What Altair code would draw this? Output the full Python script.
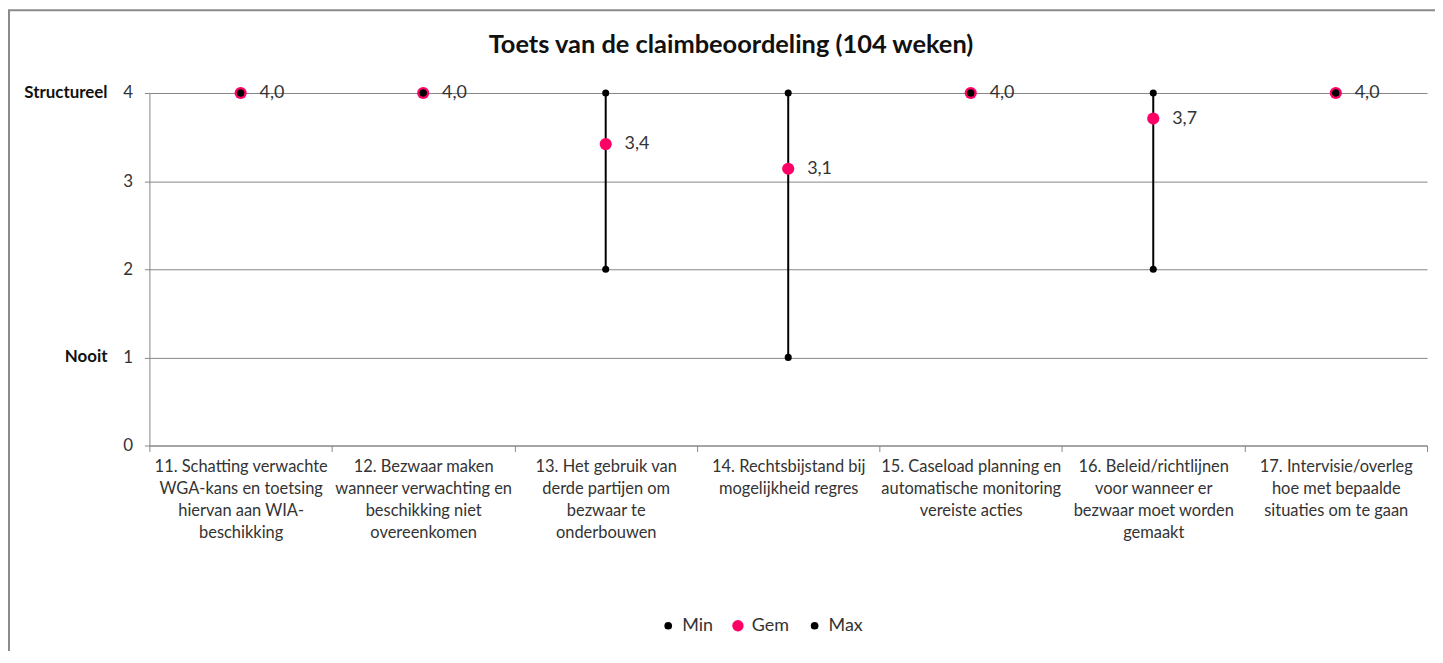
import altair as alt
import pandas as pd

categories = [
    "11. Schatting verwachte\nWGA-kans en toetsing\nhiervan aan WIA-\nbeschikking",
    "12. Bezwaar maken\nwanneer verwachting en\nbeschikking niet\novereenkomen",
    "13. Het gebruik van\nderde partijen om\nbezwaar te\nonderbouwen",
    "14. Rechtsbijstand bij\nmogelijkheid regres",
    "15. Caseload planning en\nautomatische monitoring\nvereiste acties",
    "16. Beleid/richtlijnen\nvoor wanneer er\nbezwaar moet worden\ngemaakt",
    "17. Intervisie/overleg\nhoe met bepaalde\nsituaties om te gaan",
]
min_vals = [4, 4, 2, 1, 4, 2, 4]
gem_vals = [4.0, 4.0, 3.42, 3.14, 4.0, 3.71, 4.0]
max_vals = [4, 4, 4, 4, 4, 4, 4]
y_ticks = [0, 1, 2, 3, 4]
y_named = ["Structureel", "Nooit"]
y_named_vals = [4, 1]
series = ["Min", "Gem", "Max"]
series_colors = ["#000000", "#FF0066", "#000000"]
title_text = "Toets van de claimbeoordeling (104 weken)"

FONT = "Lato, Liberation Sans, sans-serif"
GRID = "#868686"
W, H = 1283, 354
PAD_L, PAD_T, PAD_R, PAD_B = 142, 84, 8, 205

range_df = pd.DataFrame({"cat": categories, "lo": min_vals, "hi": max_vals})
gem_df = pd.DataFrame({"cat": categories, "series": "Gem", "value": gem_vals})
mm_rows = []
for c, mn, mx in zip(categories, min_vals, max_vals):
    mm_rows.append({"cat": c, "series": "Min", "value": mn})
    mm_rows.append({"cat": c, "series": "Max", "value": mx})
mm_df = pd.DataFrame(mm_rows)
lab_df = pd.DataFrame({
    "cat": categories,
    "value": gem_vals,
    "label": [f"{v:.1f}".replace(".", ",") for v in gem_vals],
})
named_df = pd.DataFrame({"name": y_named, "value": y_named_vals})
title_df = pd.DataFrame({"t": [title_text]})

x_enc = alt.X(
    "cat:N", sort=categories,
    scale=alt.Scale(type="band", paddingInner=0, paddingOuter=0),
    axis=alt.Axis(
        title=None, labelAngle=0, tickBand="extent", tickSize=6,
        labelExpr="split(datum.label, '\\n')", labelLineHeight=22,
        labelFontSize=16.5, labelColor="#333333", labelFont=FONT,
        labelPadding=7, domainColor=GRID, tickColor=GRID, grid=False,
        labelLimit=300,
    ),
)
y_scale = alt.Scale(domain=[0, 4], nice=False, zero=True)
y_axis = alt.Axis(
    title=None, values=y_ticks, format="d", tickSize=5, labelPadding=12,
    labelFontSize=17, labelColor="#333333", labelFont=FONT,
    domainColor=GRID, tickColor=GRID, gridColor=GRID, grid=True,
)

color_enc = alt.Color(
    "series:N",
    scale=alt.Scale(domain=series, range=series_colors),
    legend=alt.Legend(
        title=None, orient="none", direction="horizontal",
        legendX=512, legendY=526, labelFontSize=18, labelFont=FONT,
        labelColor="#333333", symbolType="circle", columnPadding=16,
        labelOffset=5,
        symbolSize=alt.ExprRef("datum.label === 'Gem' ? 130 : 60"),
    ),
)

rules = alt.Chart(range_df).mark_rule(color="black", strokeWidth=2).encode(
    x=x_enc,
    y=alt.Y("lo:Q", scale=y_scale, axis=y_axis),
    y2="hi:Q",
)

gem_pts = alt.Chart(gem_df).mark_point(filled=True, opacity=1, shape="circle", size=150).encode(
    x=x_enc,
    y=alt.Y("value:Q", scale=y_scale, axis=y_axis),
    color=color_enc,
)

mm_pts = alt.Chart(mm_df).mark_point(filled=True, opacity=1, shape="circle", size=50).encode(
    x=x_enc,
    y=alt.Y("value:Q", scale=y_scale, axis=y_axis),
    color=color_enc,
)

labels = alt.Chart(lab_df).mark_text(
    align="left", baseline="middle", dx=19, fontSize=18, font=FONT, color="#333333"
).encode(
    x=x_enc,
    y=alt.Y("value:Q", scale=y_scale, axis=y_axis),
    text="label:N",
)

named = alt.Chart(named_df).mark_text(
    align="right", baseline="middle", fontSize=17, fontWeight="bold", font=FONT,
    color="#111111",
).encode(
    x=alt.value(-42),
    y=alt.Y("value:Q", scale=y_scale, axis=y_axis),
    text="name:N",
)

title = alt.Chart(title_df).mark_text(
    align="center", baseline="middle", fontSize=25.5, fontWeight="bold", font=FONT,
    color="#111111",
).encode(
    x=alt.value(584),
    y=alt.value(-48),
    text="t:N",
)

frame = alt.Chart(pd.DataFrame({"a": [0]})).mark_rect(
    fill=None, stroke="#8a8a8a", strokeWidth=2
).encode(
    x=alt.value(-PAD_L + 1), x2=alt.value(W + PAD_R + 50),
    y=alt.value(-PAD_T + 1), y2=alt.value(H + PAD_B + 50),
)

chart = alt.layer(rules, gem_pts, mm_pts, labels, named, title, frame).properties(
    width=W, height=H,
    autosize=alt.AutoSizeParams(type="none"),
    padding={"left": PAD_L, "top": PAD_T, "right": PAD_R, "bottom": PAD_B},
).configure_view(stroke=None)

chart.save("out.html", embed_options={"renderer": "svg", "actions": False})
